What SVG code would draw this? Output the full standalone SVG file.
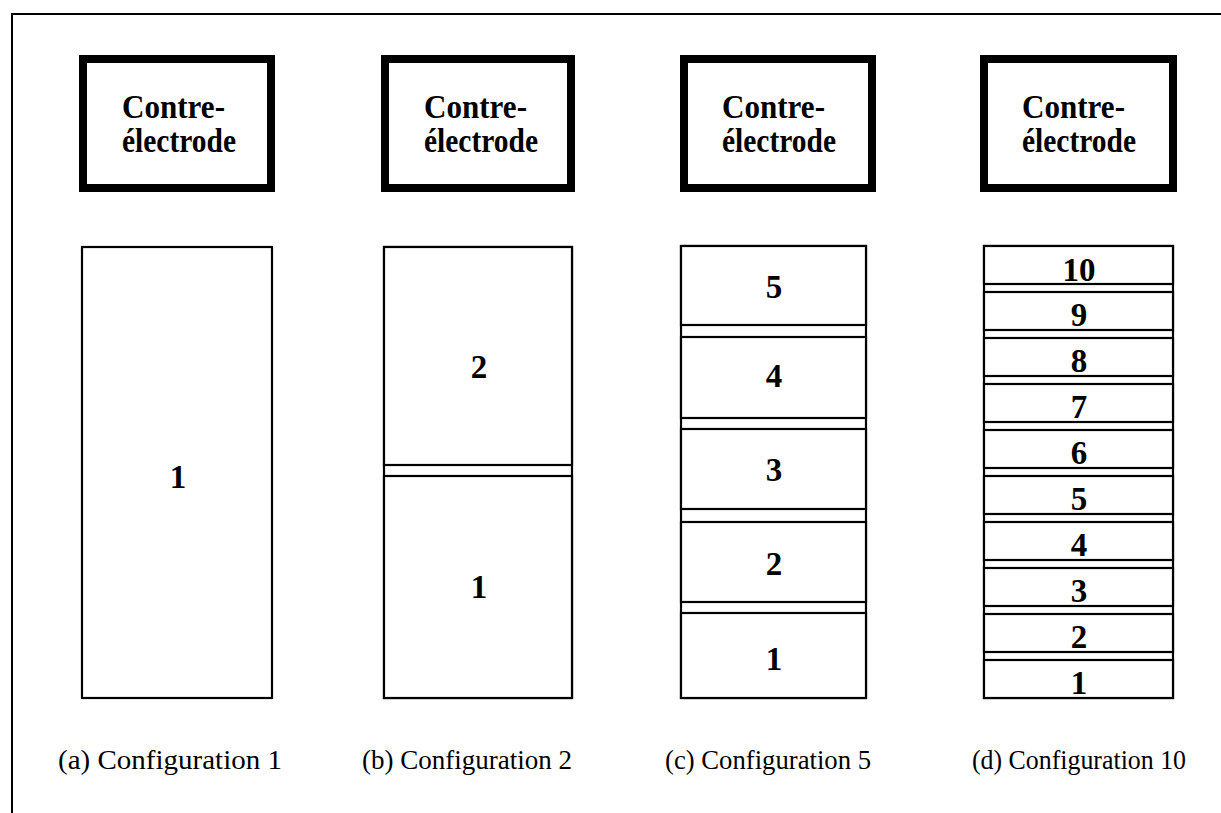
<svg xmlns="http://www.w3.org/2000/svg" width="1221" height="813" viewBox="0 0 1221 813">
<style>
.frame{fill:none;stroke:#000;stroke-width:2}
.ce{fill:#fff;stroke:#000;stroke-width:8}
.seg{fill:#fff;stroke:#000;stroke-width:2.2}
.lbl{font-family:"Liberation Serif","Times New Roman",serif;font-weight:bold;font-size:34px;fill:#000}
.num{font-family:"Liberation Serif","Times New Roman",serif;font-weight:bold;font-size:33px;fill:#000;text-anchor:middle}
.cap{font-family:"Liberation Serif","Times New Roman",serif;font-size:28px;fill:#000}
</style>
<rect fill="#fff" x="0" y="0" width="1221" height="813"/>
<path class="frame" d="M12,813 V14 H1221"/>

<g id="ce1">
<rect class="ce" x="83" y="59" width="188" height="129"/>
<text class="lbl" x="122" y="118" textLength="103" lengthAdjust="spacingAndGlyphs">Contre-</text>
<text class="lbl" x="122" y="152" textLength="114" lengthAdjust="spacingAndGlyphs">électrode</text>
</g>
<g id="ce2">
<rect class="ce" x="385" y="59" width="186" height="129"/>
<text class="lbl" x="424" y="118" textLength="103" lengthAdjust="spacingAndGlyphs">Contre-</text>
<text class="lbl" x="424" y="152" textLength="114" lengthAdjust="spacingAndGlyphs">électrode</text>
</g>
<g id="ce3">
<rect class="ce" x="684" y="59" width="188" height="129"/>
<text class="lbl" x="722" y="118" textLength="103" lengthAdjust="spacingAndGlyphs">Contre-</text>
<text class="lbl" x="722" y="152" textLength="114" lengthAdjust="spacingAndGlyphs">électrode</text>
</g>
<g id="ce4">
<rect class="ce" x="984" y="59" width="189" height="129"/>
<text class="lbl" x="1022" y="118" textLength="103" lengthAdjust="spacingAndGlyphs">Contre-</text>
<text class="lbl" x="1022" y="152" textLength="114" lengthAdjust="spacingAndGlyphs">électrode</text>
</g>

<g id="config1">
<rect class="seg" x="82" y="247" width="190" height="451"/>
<text class="num" x="178" y="488">1</text>
</g>

<g id="config2">
<rect class="seg" x="384" y="247" width="188" height="451"/>
<rect class="seg" x="384" y="247" width="188" height="218"/>
<rect class="seg" x="384" y="476" width="188" height="222"/>
<text class="num" x="479" y="378">2</text>
<text class="num" x="479" y="598">1</text>
</g>

<g id="config5">
<rect class="seg" x="681" y="246" width="185" height="452"/>
<rect class="seg" x="681" y="246" width="185" height="79"/>
<rect class="seg" x="681" y="337" width="185" height="81"/>
<rect class="seg" x="681" y="429" width="185" height="80"/>
<rect class="seg" x="681" y="522" width="185" height="80"/>
<rect class="seg" x="681" y="613" width="185" height="85"/>
<text class="num" x="774" y="298">5</text>
<text class="num" x="774" y="387">4</text>
<text class="num" x="774" y="481">3</text>
<text class="num" x="774" y="575">2</text>
<text class="num" x="774" y="670">1</text>
</g>

<g id="config10">
<rect class="seg" x="984" y="246" width="189" height="452"/>
<rect class="seg" x="984" y="246" width="189" height="38"/>
<rect class="seg" x="984" y="292" width="189" height="38"/>
<rect class="seg" x="984" y="338" width="189" height="38"/>
<rect class="seg" x="984" y="384" width="189" height="38"/>
<rect class="seg" x="984" y="430" width="189" height="38"/>
<rect class="seg" x="984" y="476" width="189" height="38"/>
<rect class="seg" x="984" y="522" width="189" height="38"/>
<rect class="seg" x="984" y="568" width="189" height="38"/>
<rect class="seg" x="984" y="614" width="189" height="38"/>
<rect class="seg" x="984" y="660" width="189" height="38"/>
<text class="num" x="1079" y="281">10</text>
<text class="num" x="1079" y="326">9</text>
<text class="num" x="1079" y="372">8</text>
<text class="num" x="1079" y="418">7</text>
<text class="num" x="1079" y="464">6</text>
<text class="num" x="1079" y="510">5</text>
<text class="num" x="1079" y="556">4</text>
<text class="num" x="1079" y="602">3</text>
<text class="num" x="1079" y="648">2</text>
<text class="num" x="1079" y="694">1</text>
</g>

<g id="captions">
<text class="cap" x="58" y="769" textLength="224" lengthAdjust="spacingAndGlyphs">(a) Configuration 1</text>
<text class="cap" x="362" y="769" textLength="210" lengthAdjust="spacingAndGlyphs">(b) Configuration 2</text>
<text class="cap" x="665" y="769" textLength="206" lengthAdjust="spacingAndGlyphs">(c) Configuration 5</text>
<text class="cap" x="972" y="769" textLength="214" lengthAdjust="spacingAndGlyphs">(d) Configuration 10</text>
</g>
</svg>
